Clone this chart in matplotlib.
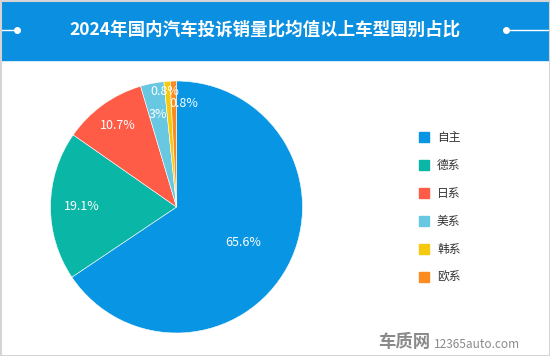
import numpy as np
import matplotlib
matplotlib.use("Agg")
import matplotlib.pyplot as plt
from matplotlib.patches import Rectangle

plt.rcParams['font.family'] = ['Noto Sans CJK SC', 'DejaVu Sans']

title = "2024年国内汽车投诉销量比均值以上车型国别占比"
categories = ["自主", "德系", "日系", "美系", "韩系", "欧系"]
values = [65.6, 19.1, 10.7, 3, 0.8, 0.8]
value_labels = ["65.6%", "19.1%", "10.7%", "3%", "0.8%", "0.8%"]
colors = ["#0795e4", "#0ab6a6", "#fe5c47", "#68c8e1", "#f4c90e", "#fc8c1f"]
label_radius = [0.6, 0.75, 0.8, 0.75, 0.92, 0.82]
label_angle_shift = [0, 0, 0, 0, 1.5, -5.5]

W, H = 550, 356
fig = plt.figure(figsize=(W / 100, H / 100), dpi=100)
fig.patch.set_facecolor("white")

# background / header axes in pixel coordinates
bg = fig.add_axes([0, 0, 1, 1])
bg.set_xlim(0, W)
bg.set_ylim(H, 0)
bg.axis("off")
bg.add_patch(Rectangle((0, 0), W, 60, color="#0b8fe0", zorder=1))
bg.add_patch(Rectangle((0.5, 0.5), W - 1, H - 1, fill=False, ec="#d4d4d4", lw=1.5, zorder=3))
bg.plot([0, 17], [30, 30], color="white", lw=1, zorder=2)
bg.plot([17], [30], "o", color="white", ms=4, zorder=2)
bg.plot([506, W], [30, 30], color="white", lw=1, zorder=2)
bg.plot([506], [30], "o", color="white", ms=4, zorder=2)
bg.text(265, 30, title, color="white", fontsize=12.6, fontweight="bold",
        ha="center", va="center", zorder=4)

# legend
for i, (c, name) in enumerate(zip(categories, colors)):
    y = 137 + 28 * i
    bg.add_patch(Rectangle((419, y - 5), 10, 10, color=name, zorder=2))
    bg.text(437, y, c, color="#333333", fontsize=8.5, ha="left", va="center", zorder=2)

# watermark
bg.text(404, 342, "车质网", color="#8a8a8a", fontsize=12.5, fontweight="bold",
        ha="center", va="center", zorder=2)
bg.text(477, 344, "12365auto.com", color="#8a8a8a", fontsize=8.5,
        ha="center", va="center", zorder=2)

# pie
cx, cy, r = 176.5, 207, 126
ax = fig.add_axes([(cx - r) / W, (H - cy - r) / H, 2 * r / W, 2 * r / H])
wedges, _ = ax.pie(values, colors=colors, startangle=90, counterclock=False,
                   radius=1, wedgeprops=dict(edgecolor="white", linewidth=0.4))
ax.set_xlim(-1, 1)
ax.set_ylim(-1, 1)
ax.axis("off")
for w, lab, rr, sh in zip(wedges, value_labels, label_radius, label_angle_shift):
    ang = np.deg2rad((w.theta1 + w.theta2) / 2 + sh)
    ax.text(rr * np.cos(ang), rr * np.sin(ang), lab, color="white", fontsize=9,
            ha="center", va="center")

fig.savefig("out.png", dpi=100)
